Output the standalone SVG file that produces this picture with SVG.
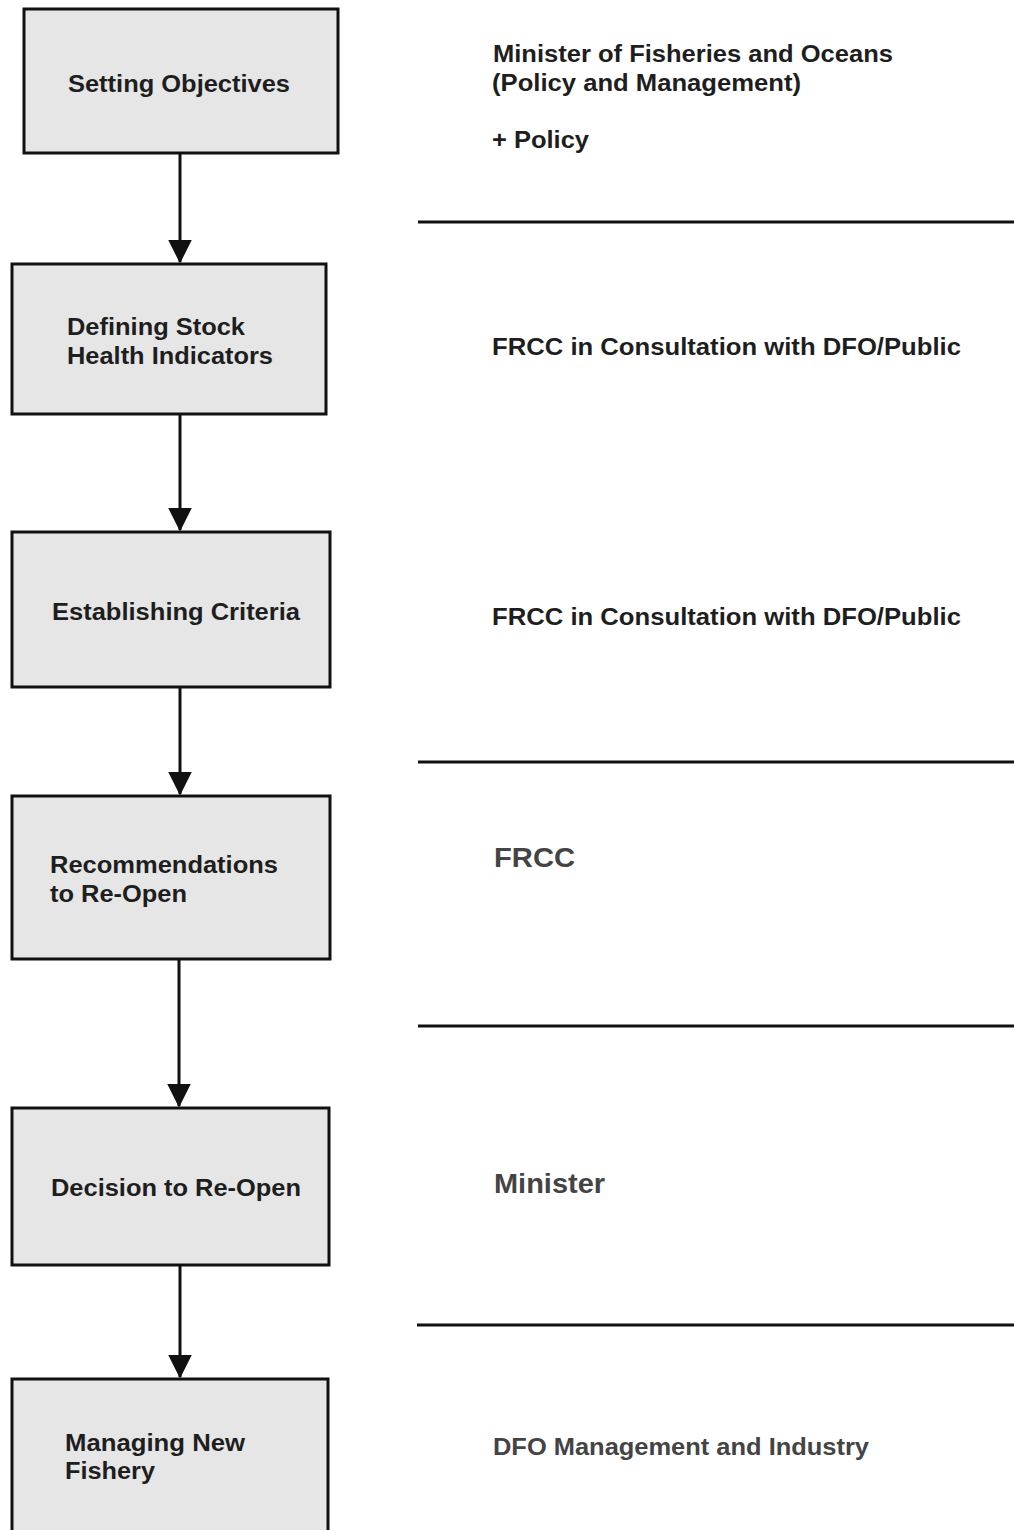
<svg xmlns="http://www.w3.org/2000/svg" width="1014" height="1530" viewBox="0 0 1014 1530">
<style>
.box{fill:#e6e6e6;stroke:#111;stroke-width:3}
.bt{font-family:"Liberation Sans",Arial,sans-serif;font-weight:bold;font-size:23px;fill:#1e1e1e}
.rt{font-family:"Liberation Sans",Arial,sans-serif;font-weight:bold;font-size:23px;fill:#1e1e1e}
.big{font-size:28px;fill:#444}
.conn{stroke:#111;stroke-width:3;fill:none}
.sep{stroke:#111;stroke-width:3}
</style>
<defs>
<marker id="ah" markerWidth="8" markerHeight="8" refX="7.5" refY="4" orient="auto" markerUnits="strokeWidth">
<path d="M0,0 L8,4 L0,8 Z" fill="#111"/>
</marker>
</defs>
<rect width="1014" height="1530" fill="#fff"/>
<g id="connectors">
<line class="conn" x1="180" y1="153" x2="180" y2="262" marker-end="url(#ah)"/>
<line class="conn" x1="180" y1="414" x2="180" y2="530" marker-end="url(#ah)"/>
<line class="conn" x1="180" y1="687" x2="180" y2="794" marker-end="url(#ah)"/>
<line class="conn" x1="179" y1="959" x2="179" y2="1106" marker-end="url(#ah)"/>
<line class="conn" x1="180" y1="1265" x2="180" y2="1377" marker-end="url(#ah)"/>
</g>
<g id="separators">
<line class="sep" x1="418" y1="222" x2="1014" y2="222"/>
<line class="sep" x1="418" y1="762" x2="1014" y2="762"/>
<line class="sep" x1="418" y1="1026" x2="1014" y2="1026"/>
<line class="sep" x1="417" y1="1325" x2="1014" y2="1325"/>
</g>
<g id="n1">
<rect class="box" x="24" y="9" width="314" height="144"/>
<text class="bt" x="68" y="92" textLength="222" lengthAdjust="spacingAndGlyphs">Setting Objectives</text>
</g>
<g id="n2">
<rect class="box" x="12" y="264" width="314" height="150"/>
<text class="bt" x="67" y="335" textLength="178" lengthAdjust="spacingAndGlyphs">Defining Stock</text>
<text class="bt" x="67" y="364" textLength="206" lengthAdjust="spacingAndGlyphs">Health Indicators</text>
</g>
<g id="n3">
<rect class="box" x="12" y="532" width="318" height="155"/>
<text class="bt" x="52" y="620" textLength="248" lengthAdjust="spacingAndGlyphs">Establishing Criteria</text>
</g>
<g id="n4">
<rect class="box" x="12" y="796" width="318" height="163"/>
<text class="bt" x="50" y="873" textLength="228" lengthAdjust="spacingAndGlyphs">Recommendations</text>
<text class="bt" x="50" y="902" textLength="137" lengthAdjust="spacingAndGlyphs">to Re-Open</text>
</g>
<g id="n5">
<rect class="box" x="12" y="1108" width="317" height="157"/>
<text class="bt" x="51" y="1196" textLength="250" lengthAdjust="spacingAndGlyphs">Decision to Re-Open</text>
</g>
<g id="n6">
<rect class="box" x="12" y="1379" width="316" height="160"/>
<text class="bt" x="65" y="1451" textLength="180" lengthAdjust="spacingAndGlyphs">Managing New</text>
<text class="bt" x="65" y="1479" textLength="90" lengthAdjust="spacingAndGlyphs">Fishery</text>
</g>
<g id="roles">
<text class="rt" x="493" y="62" textLength="400" lengthAdjust="spacingAndGlyphs">Minister of Fisheries and Oceans</text>
<text class="rt" x="492" y="91" textLength="309" lengthAdjust="spacingAndGlyphs">(Policy and Management)</text>
<text class="rt" x="492" y="148" textLength="97" lengthAdjust="spacingAndGlyphs">+ Policy</text>
<text class="rt" x="492" y="355" textLength="469" lengthAdjust="spacingAndGlyphs">FRCC in Consultation with DFO/Public</text>
<text class="rt" x="492" y="625" textLength="469" lengthAdjust="spacingAndGlyphs">FRCC in Consultation with DFO/Public</text>
<text class="rt big" x="494" y="867" textLength="81" lengthAdjust="spacingAndGlyphs">FRCC</text>
<text class="rt big" x="494" y="1193" textLength="111" lengthAdjust="spacingAndGlyphs">Minister</text>
<text class="rt" x="493" y="1455" textLength="376" lengthAdjust="spacingAndGlyphs" style="fill:#444">DFO Management and Industry</text>
</g>
</svg>
